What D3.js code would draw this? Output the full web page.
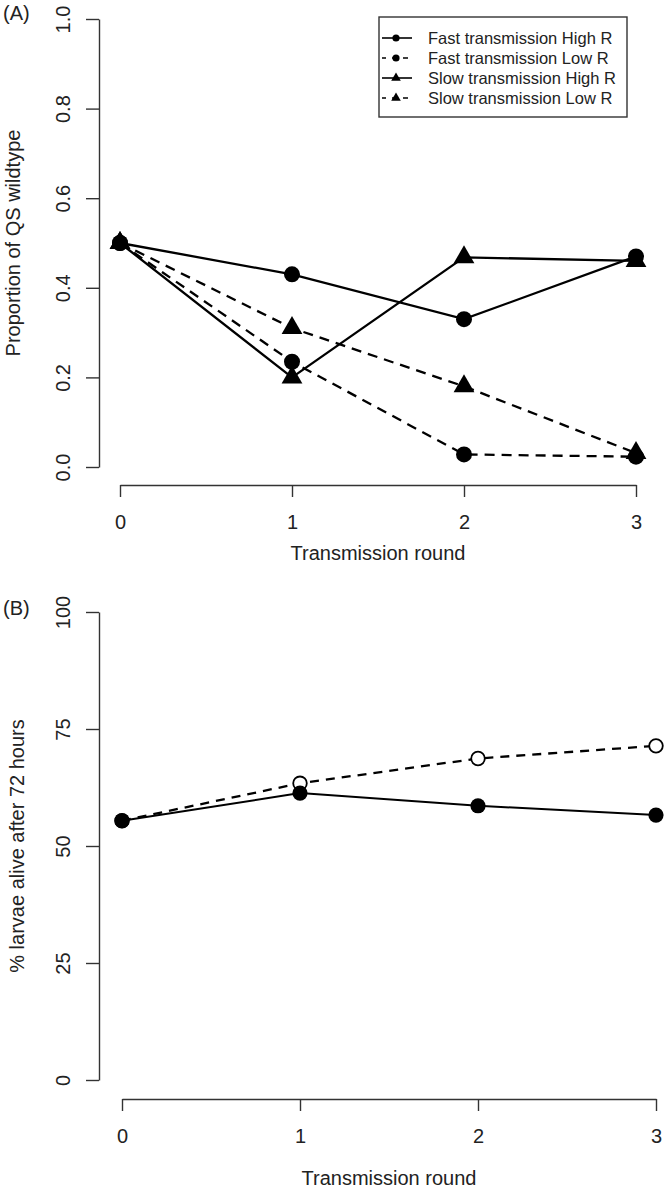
<!DOCTYPE html>
<html>
<head>
<meta charset="utf-8">
<script src="https://cdn.jsdelivr.net/npm/d3@7"></script>
<style>
  body { margin: 0; background: #fff; }
  svg { display: block; font-family: "Liberation Sans", Arial, Helvetica, sans-serif; }
</style>
</head>
<body>
<div id="chart"></div>
<script>
// data
const rounds = [0, 1, 2, 3];
const xTicks = [0, 1, 2, 3];

// panel A: proportion of QS wildtype
const fastHighR = [0.50, 0.43, 0.33, 0.47];
const fastLowR = [0.50, 0.235, 0.028, 0.023];
const slowHighR = [0.50, 0.20, 0.468, 0.460];
const slowLowR = [0.50, 0.31, 0.18, 0.031];
const yTicksA = [0, 0.2, 0.4, 0.6, 0.8, 1.0];
const legendLabels = ["Fast transmission High R", "Fast transmission Low R", "Slow transmission High R", "Slow transmission Low R"];

// panel B: % larvae alive after 72 hours
const survivalSolid = [55.4, 61.3, 58.6, 56.6];
const survivalDashed = [55.4, 63.4, 68.7, 71.4];
const yTicksB = [0, 25, 50, 75, 100];

const width = 666, height = 1191;
const svg = d3.select("#chart").append("svg")
  .attr("width", width)
  .attr("height", height);

const axisColor = "#333";
const fontSize = 20;

// R-style axes: line only spans first to last tick
function drawYAxis(g, y, ticks, fmt) {
  const ax = g.append("g")
    .attr("transform", "translate(99,0)")
    .call(d3.axisLeft(y).tickValues(ticks).tickFormat(fmt).tickSize(13).tickSizeOuter(0));
  ax.select(".domain").attr("stroke", axisColor).attr("stroke-width", 1.4);
  ax.selectAll(".tick line").attr("stroke", axisColor).attr("stroke-width", 1.4);
  ax.selectAll(".tick text")
    .attr("transform", "rotate(-90)")
    .attr("x", 0)
    .attr("y", -29)
    .attr("dy", 0)
    .attr("text-anchor", "middle")
    .attr("fill", "#222")
    .attr("font-size", fontSize)
    .attr("font-family", null);
}

function drawXAxis(g, x, yPos, labelOffset) {
  const ax = g.append("g")
    .attr("transform", `translate(0,${yPos})`)
    .call(d3.axisBottom(x).tickValues(xTicks).tickFormat(d3.format("d")).tickSize(12).tickSizeOuter(0));
  ax.select(".domain").attr("stroke", axisColor).attr("stroke-width", 1.4);
  ax.selectAll(".tick line").attr("stroke", axisColor).attr("stroke-width", 1.4);
  ax.selectAll(".tick text")
    .attr("y", labelOffset)
    .attr("dy", 0)
    .attr("fill", "#222")
    .attr("font-size", fontSize)
    .attr("font-family", null);
}

const triangle = (size) => d3.symbol().type(d3.symbolTriangle).size(size)();

// ---------------- Panel A ----------------
const gA = svg.append("g");
const xA = d3.scaleLinear().domain([0, 3]).range([120, 636]);
const yA = d3.scaleLinear().domain([0, 1]).range([467, 19]);

drawYAxis(gA, yA, yTicksA, d3.format(".1f"));
drawXAxis(gA, xA, 485, 44);

gA.append("text")
  .attr("x", 3).attr("y", 20)
  .attr("font-size", fontSize).attr("fill", "#222")
  .text("(A)");

gA.append("text")
  .attr("transform", `translate(20,${(19 + 467) / 2}) rotate(-90)`)
  .attr("text-anchor", "middle")
  .attr("font-size", fontSize).attr("fill", "#222")
  .text("Proportion of QS wildtype");

gA.append("text")
  .attr("x", (120 + 636) / 2).attr("y", 560)
  .attr("text-anchor", "middle")
  .attr("font-size", fontSize).attr("fill", "#222")
  .text("Transmission round");

const seriesA = [
  { values: fastHighR, dash: null, shape: "circle" },
  { values: fastLowR, dash: "10,7", shape: "circle" },
  { values: slowHighR, dash: null, shape: "triangle" },
  { values: slowLowR, dash: "10,7", shape: "triangle" }
];

const lineA = d3.line().x((d, i) => xA(rounds[i])).y((d) => yA(d));

seriesA.forEach((s) => {
  gA.append("path")
    .attr("d", lineA(s.values))
    .attr("fill", "none")
    .attr("stroke", "#000")
    .attr("stroke-width", 2.3)
    .attr("stroke-dasharray", s.dash);
});

seriesA.forEach((s) => {
  if (s.shape === "circle") {
    gA.selectAll(null)
      .data(s.values)
      .enter().append("circle")
      .attr("cx", (d, i) => xA(rounds[i]))
      .attr("cy", (d) => yA(d))
      .attr("r", 8)
      .attr("fill", "#000");
  } else {
    gA.selectAll(null)
      .data(s.values)
      .enter().append("path")
      .attr("d", triangle(187))
      .attr("transform", (d, i) => `translate(${xA(rounds[i])},${yA(d)})`)
      .attr("fill", "#000");
  }
});

// legend
const legend = gA.append("g");
legend.append("rect")
  .attr("x", 379).attr("y", 17)
  .attr("width", 248).attr("height", 100)
  .attr("fill", "#fff")
  .attr("stroke", axisColor)
  .attr("stroke-width", 1.4);

legendLabels.forEach((label, i) => {
  const cy = 38 + i * 20;
  const s = seriesA[i];
  legend.append("line")
    .attr("x1", 382).attr("x2", 412)
    .attr("y1", cy).attr("y2", cy)
    .attr("stroke", "#000")
    .attr("stroke-width", 1.6)
    .attr("stroke-dasharray", s.dash ? "5,6" : null)
    .attr("stroke-dashoffset", s.dash ? 1 : null);
  if (s.shape === "circle") {
    legend.append("circle").attr("cx", 396).attr("cy", cy).attr("r", 3.6).attr("fill", "#000");
  } else {
    legend.append("path").attr("d", triangle(40)).attr("transform", `translate(396,${cy})`).attr("fill", "#000");
  }
  legend.append("text")
    .attr("x", 428).attr("y", cy + 6)
    .attr("font-size", 16.5).attr("fill", "#222")
    .text(label);
});

// ---------------- Panel B ----------------
const gB = svg.append("g");
const xB = d3.scaleLinear().domain([0, 3]).range([122, 656]);
const yB = d3.scaleLinear().domain([0, 100]).range([1080, 612]);

drawYAxis(gB, yB, yTicksB, d3.format("d"));
drawXAxis(gB, xB, 1099, 44);

gB.append("text")
  .attr("x", 3).attr("y", 615)
  .attr("font-size", fontSize).attr("fill", "#222")
  .text("(B)");

gB.append("text")
  .attr("transform", `translate(24,${(612 + 1080) / 2}) rotate(-90)`)
  .attr("text-anchor", "middle")
  .attr("font-size", fontSize).attr("fill", "#222")
  .text("% larvae alive after 72 hours");

gB.append("text")
  .attr("x", (122 + 656) / 2).attr("y", 1185)
  .attr("text-anchor", "middle")
  .attr("font-size", fontSize).attr("fill", "#222")
  .text("Transmission round");

const lineB = d3.line().x((d, i) => xB(rounds[i])).y((d) => yB(d));

gB.append("path")
  .attr("d", lineB(survivalDashed))
  .attr("fill", "none")
  .attr("stroke", "#000")
  .attr("stroke-width", 2.3)
  .attr("stroke-dasharray", "9,7");

gB.append("path")
  .attr("d", lineB(survivalSolid))
  .attr("fill", "none")
  .attr("stroke", "#000")
  .attr("stroke-width", 2);

gB.selectAll(".open")
  .data(survivalDashed)
  .enter().append("circle")
  .attr("class", "open")
  .attr("cx", (d, i) => xB(rounds[i]))
  .attr("cy", (d) => yB(d))
  .attr("r", 6.8)
  .attr("fill", "#fff")
  .attr("stroke", "#000")
  .attr("stroke-width", 1.8);

gB.selectAll(".filled")
  .data(survivalSolid)
  .enter().append("circle")
  .attr("class", "filled")
  .attr("cx", (d, i) => xB(rounds[i]))
  .attr("cy", (d) => yB(d))
  .attr("r", 7.6)
  .attr("fill", "#000");
</script>
</body>
</html>
